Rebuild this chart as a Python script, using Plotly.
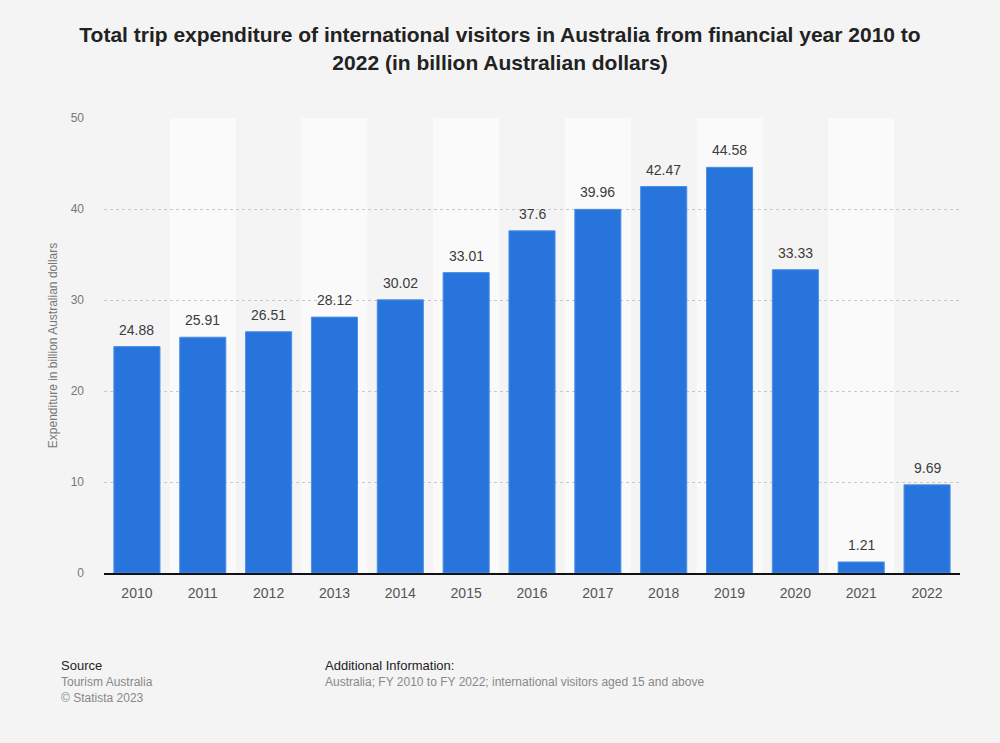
import plotly.graph_objects as go

years = ["2010", "2011", "2012", "2013", "2014", "2015", "2016",
         "2017", "2018", "2019", "2020", "2021", "2022"]
expenditure = [24.88, 25.91, 26.51, 28.12, 30.02, 33.01, 37.6,
               39.96, 42.47, 44.58, 33.33, 1.21, 9.69]
labels = ["24.88", "25.91", "26.51", "28.12", "30.02", "33.01", "37.6",
          "39.96", "42.47", "44.58", "33.33", "1.21", "9.69"]
y_ticks = [0, 10, 20, 30, 40, 50]

fig = go.Figure()

fig.add_trace(go.Bar(
    x=list(range(len(years))),
    y=expenditure,
    marker=dict(color="#2775dc", line=dict(color="#4d8fe6", width=1)),
    width=0.7,
    hoverinfo="skip",
))

# value labels above bars
for i, (v, lab) in enumerate(zip(expenditure, labels)):
    fig.add_annotation(x=i, y=v, text=lab, showarrow=False,
                       yanchor="bottom", yshift=7,
                       font=dict(size=14, color="#3c3c3c"))

# alternating column bands
for i in range(1, len(years), 2):
    fig.add_shape(type="rect", xref="x", yref="paper",
                  x0=i - 0.5, x1=i + 0.5, y0=0, y1=1,
                  fillcolor="#fafafa", line=dict(width=0), layer="below")

fig.update_layout(
    width=1000, height=743,
    paper_bgcolor="#f4f4f4", plot_bgcolor="#f4f4f4",
    margin=dict(l=104, r=40, t=118, b=170),
    font=dict(family="Liberation Sans, Arial, sans-serif", color="#666666"),
    title=dict(
        text="<b>Total trip expenditure of international visitors in Australia from financial year 2010 to<br>2022 (in billion Australian dollars)</b>",
        x=0.5, xanchor="center", y=0.943, yanchor="top",
        font=dict(size=21, color="#222222"),
    ),
    showlegend=False,
)

fig.update_xaxes(
    tickmode="array", tickvals=list(range(len(years))), ticktext=years,
    range=[-0.5, len(years) - 0.5],
    tickfont=dict(size=14, color="#555555"),
    showgrid=False, showline=True, linecolor="#111111", linewidth=1.5,
    ticks="", zeroline=False, ticklabelstandoff=6,
)
fig.update_yaxes(
    range=[0, 50], tickvals=y_ticks,
    tickfont=dict(size=12, color="#777777"),
    showgrid=True, gridcolor="#c8c8c8", griddash="dot", gridwidth=1,
    zeroline=False, ticks="", ticklen=0, ticklabelstandoff=19,
    title=dict(text="Expenditure in billion Australian dollars",
               font=dict(size=12, color="#777777"), standoff=10),
)

fig.add_annotation(text="Source", xref="paper", yref="paper",
                   x=-0.052, y=-0.183, xanchor="left", yanchor="top",
                   showarrow=False, font=dict(size=13, color="#222222"))
fig.add_annotation(text="Tourism Australia<br>© Statista 2023", xref="paper", yref="paper",
                   x=-0.052, y=-0.22, xanchor="left", yanchor="top", align="left",
                   showarrow=False, font=dict(size=12, color="#888888"))
fig.add_annotation(text="Additional Information:", xref="paper", yref="paper",
                   x=0.256, y=-0.183, xanchor="left", yanchor="top",
                   showarrow=False, font=dict(size=13, color="#222222"))
fig.add_annotation(text="Australia; FY 2010 to FY 2022; international visitors aged 15 and above",
                   xref="paper", yref="paper",
                   x=0.256, y=-0.22, xanchor="left", yanchor="top",
                   showarrow=False, font=dict(size=12, color="#888888"))

fig.write_html("out.html", config={"displayModeBar": False},
               post_script="document.body.style.margin='0px';")
